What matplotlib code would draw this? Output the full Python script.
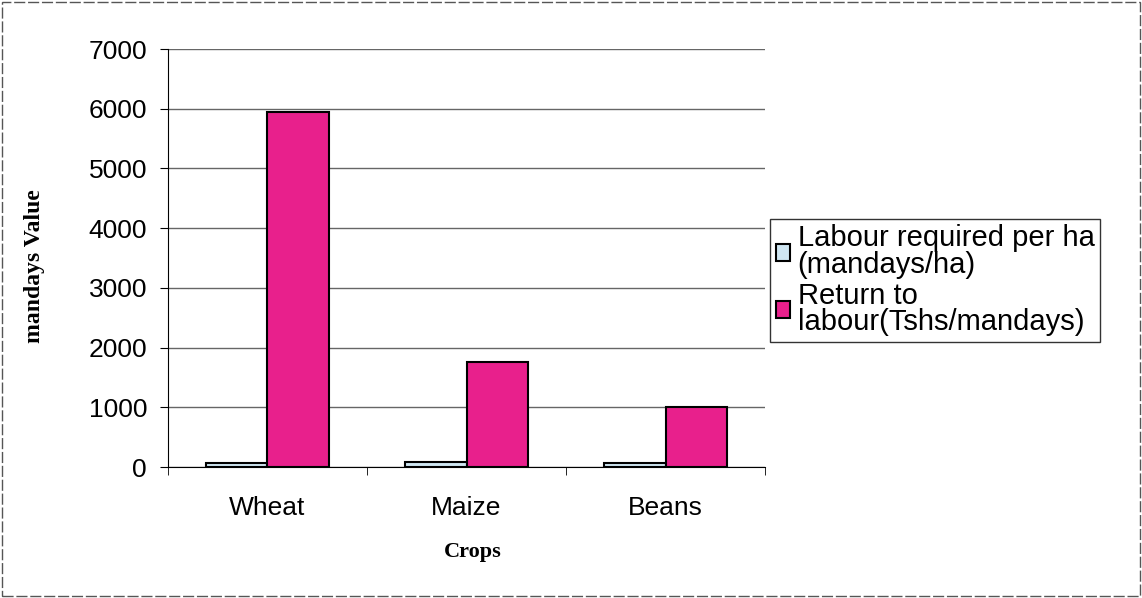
import matplotlib.pyplot as plt
import matplotlib.patches as mpatches
import numpy as np

crops = ['Wheat', 'Maize', 'Beans']
labour_required = [70, 85, 75]          # mandays/ha
return_to_labour = [5940, 1760, 1010]   # Tshs/mandays

plt.rcParams['font.family'] = ['Liberation Sans', 'DejaVu Sans']

fig = plt.figure(figsize=(11.42, 5.98), dpi=100)
ax = fig.add_axes([0.147, 0.219, 0.523, 0.699])

x = np.arange(len(crops))
w = 0.31
ax.bar(x - w / 2, labour_required, width=w, color='#cfe6f2', edgecolor='black',
       linewidth=1.5, label='Labour required per ha\n(mandays/ha)', zorder=3)
ax.bar(x + w / 2, return_to_labour, width=w, color='#e8208c', edgecolor='black',
       linewidth=1.5, label='Return to\nlabour(Tshs/mandays)', zorder=3)

ax.set_xlim(-0.5, 2.5)
ax.set_ylim(0, 7000)
ax.set_yticks(np.arange(0, 7001, 1000))
ax.yaxis.grid(True, color='#666666', linewidth=1)
ax.set_axisbelow(True)

ax.set_xticks(x)
ax.set_xticklabels(crops)
ax.set_xticks([-0.5, 0.5, 1.5, 2.5], minor=True)
ax.tick_params(axis='x', which='major', length=0, pad=21, labelsize=19)
ax.tick_params(axis='x', which='minor', length=6, direction='out')
ax.tick_params(axis='y', length=6, pad=9, labelsize=19)

for s in ['top', 'right']:
    ax.spines[s].set_visible(False)

ax.set_ylabel('mandays Value', family='Liberation Serif', fontweight='bold', fontsize=17)
ax.set_xlabel('Crops', family='Liberation Serif', fontweight='bold', fontsize=16)
ax.yaxis.set_label_coords(-0.205, 0.48)
ax.xaxis.set_label_coords(0.51, -0.179)

leg = ax.legend(loc='center left', bbox_to_anchor=(1.008, 0.447), fontsize=21,
                frameon=True, fancybox=False, edgecolor='black',
                handlelength=0.5, handleheight=0.5, handletextpad=0.25,
                borderpad=0.2, labelspacing=0.1, borderaxespad=0)
leg.get_frame().set_linewidth(1)
for t in leg.get_texts():
    t.set_linespacing(0.92)

fig.patches.append(mpatches.Rectangle((0.002, 0.004), 0.996, 0.992, transform=fig.transFigure,
                                      fill=False, edgecolor='#555555', linewidth=1,
                                      linestyle=(0, (8, 2))))

fig.savefig('out.png', dpi=100)
